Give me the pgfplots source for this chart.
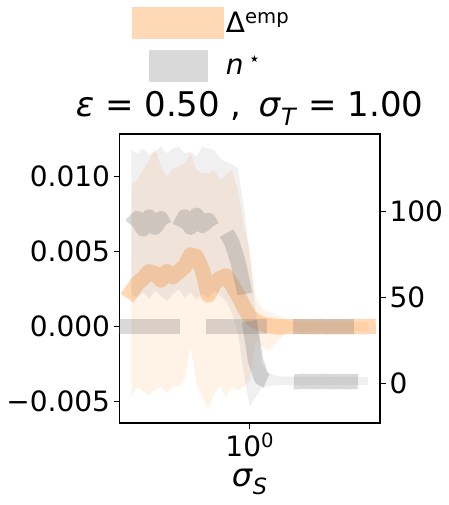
\documentclass[border=0pt]{standalone}
\usepackage{fontspec}
\setmainfont{DejaVu Sans}
\usepackage{pgfplots}
\pgfplotsset{compat=1.18}
\usepackage{pgfplotstable}
\definecolor{taborange}{RGB}{255,127,14}
\definecolor{mplgray}{RGB}{128,128,128}
\newcommand{\tickfont}{\fontsize{28bp}{32bp}\selectfont}
\newcommand{\labfont}{\fontsize{34bp}{40bp}\selectfont}
\newcommand{\xlabfont}{\fontsize{32bp}{38bp}\selectfont}
\newcommand{\legfont}{\fontsize{28bp}{32bp}\selectfont}

\pgfplotstableread{
x        dlo      dhi      dm       nlo    nhi    nm
0.31623  -0.00467 0.00944  0.00233  52     135.9  92
0.33497  -0.00400 0.00978  0.00289  50     134.0  96
0.35481  -0.00433 0.01044  0.00322  53     136.9  90
0.37584  -0.00456 0.01111  0.00367  49     133.0  97
0.39811  -0.00422 0.01189  0.00356  54     135.0  91
0.42170  -0.00400 0.01067  0.00311  51     137.9  96
0.44668  -0.00444 0.01000  0.00367  48     134.0  89
0.47315  -0.00400 0.01055  0.00333  52     136.9  94
0.50119  -0.00400 0.01067  0.00367  55     137.9  90
0.53088  -0.00356 0.01089  0.00400  50     134.0  97
0.56234  -0.00133 0.01155  0.00478  53     135.0  91
0.59566  -0.00378 0.01044  0.00467  49     132.0  98
0.63096  -0.00467 0.01022  0.00378  52     137.9  92
0.66834  -0.00556 0.01022  0.00211  50     136.9  95
0.70795  -0.00444 0.01044  0.00289  54     135.9  89
0.74989  -0.00400 0.00978  0.00322  51     131.0  94
0.79433  -0.00467 0.01011  0.00338  48     129.1  88
0.84140  -0.00400 0.01044  0.00280  41     127.8  82
0.89125  -0.00422 0.00911  0.00210  29     125.2  71
0.94406  -0.00400 0.00667  0.00133  6      103.0  55
1.00000  -0.00356 0.00511  0.00067  -13.6  74.0   35
1.05925  -0.00089 0.00200  0.00033  -7.8   42.0   13
1.12202  -0.00133 0.00122  0.00018  -2.9   12.0   3
1.18850  -0.00156 0.00100  0.00007  -1.9   5.8    1.5
1.25893  -0.00133 0.00089  0.00003  -1.2   4.9    1.2
1.33352  -0.00089 0.00067  -0.00002 -1.0   4.2    1.0
1.41254  -0.00044 0.00044  0.00002  -1.1   3.9    1.3
1.49624  -0.00033 0.00033  0.00000  -0.9   4.1    1.1
1.58489  -0.00031 0.00036  0.00002  -1.0   3.8    0.9
1.67880  -0.00035 0.00031  -0.00001 -1.2   4.0    1.2
1.77828  -0.00030 0.00034  0.00002  -0.8   3.7    1.0
1.88365  -0.00033 0.00030  -0.00001 -1.0   3.9    1.1
1.99526  -0.00030 0.00033  0.00001  -0.9   3.8    1.0
2.11349  -0.00032 0.00029  -0.00002 -1.1   4.0    1.2
2.23872  -0.00030 0.00032  0.00001  -0.8   3.6    0.9
2.37137  -0.00031 0.00030  0.00000  -1.0   3.9    1.1
2.51189  -0.00029 0.00031  0.00001  -0.9   3.7    1.0
2.66073  -0.00031 0.00029  -0.00001 -1.0   3.8    1.0
2.81838  -0.00030 0.00031  0.00001  -0.9   3.9    1.1
2.98538  -0.00031 0.00030  0.00000  -1.0   3.7    1.0
3.16228  -0.00030 0.00030  0.00001  -0.9   3.8    1.0
}\data

\begin{document}
\begin{tikzpicture}
\useasboundingbox (-119.5bp,-82bp) rectangle (329.5bp,423bp);
\begin{axis}[
  at={(0,0)}, anchor=south west,
  scale only axis, width=260.5bp, height=289bp,
  xmode=log, xmin=0.28184, xmax=3.54813,
  minor xtick={}, 
  tick align=outside,
  major tick length=6bp,
  every tick/.style={black, line width=1bp},
  axis line style={line width=1.1bp},
  tick label style={font=\tickfont},
  ymin=-0.00642, ymax=0.012847,
  xtick={1}, xticklabels={10\textsuperscript{0}},
  ytick={-0.005,0,0.005,0.01},
  yticklabels={−0.005,0.000,0.005,0.010},
  scaled y ticks=false,
  xtick pos=bottom, ytick pos=left,
  xlabel={\textit{σ}\textsubscript{\textit{S}}},
  xlabel style={font=\xlabfont, at={(axis description cs:0.5,0)}, anchor=base, yshift=-63.7bp},
  title={\textit{ε} = 0.50 ,\hspace{17bp}\textit{σ}\textsubscript{\textit{T}} = 1.00},
  title style={font=\labfont, at={(axis description cs:0.5,1)}, anchor=base, yshift=11.7bp},
  legend style={draw=none, fill=none, at={(axis description cs:0.0491,1.4405)}, anchor=north west,
    inner sep=0pt, outer sep=0pt, row sep=10.6bp, font=\legfont,
    /tikz/every even column/.append style={column sep=7.7bp}},
  legend cell align=left,
]
\addplot[draw=none, stack plots=y, forget plot] table[x=x, y=dlo]{\data};
\addplot[draw=none, fill=taborange, fill opacity=0.1, stack plots=y, forget plot] table[x=x, y expr=\thisrow{dhi}-\thisrow{dlo}]{\data} \closedcycle;
\addplot[taborange, draw opacity=0.3, line width=15.3bp, line join=round, line cap=rect, forget plot] table[x=x, y=dm]{\data};
\addplot[mplgray, draw opacity=0.3, line width=15.3bp, dash pattern=on 61bp off 26bp, forget plot] coordinates {(0.28184,0) (3.54813,0)};
\addlegendimage{legend image code/.code={\path[draw=none, fill=taborange, fill opacity=0.3] (0bp,-16.3bp) rectangle (91.7bp,16.3bp);}}
\addlegendentry{\raisebox{0pt}[20.6bp][0bp]{Δ\textsuperscript{emp}}}
\addlegendimage{legend image code/.code={\path[draw=none, fill=mplgray, fill opacity=0.3] (16.7bp,-16.2bp) rectangle (75.4bp,16.2bp);}}
\addlegendentry{\raisebox{0pt}[17.6bp][0bp]{\textit{n}\,\textsuperscript{⋆}}}
\end{axis}

\begin{axis}[
  at={(0,0)}, anchor=south west,
  scale only axis, width=260.5bp, height=289bp,
  xmode=log, xmin=0.28184, xmax=3.54813,
  tick align=outside,
  major tick length=6bp,
  every tick/.style={black, line width=1bp},
  axis line style={line width=1.1bp},
  tick label style={font=\tickfont},
  ymin=-23.1, ymax=145.3,
  axis x line=none, axis y line*=right,
  ytick={0,50,100}, yticklabels={0,50,100},
]
\addplot[draw=none, stack plots=y, forget plot] table[x=x, y=nlo]{\data};
\addplot[draw=none, fill=mplgray, fill opacity=0.12, stack plots=y, forget plot] table[x=x, y expr=\thisrow{nhi}-\thisrow{nlo}]{\data} \closedcycle;
\addplot[mplgray, draw opacity=0.3, line width=15.3bp, line join=round, dash pattern=on 64bp off 27.5bp, forget plot] table[x=x, y=nm]{\data};
\end{axis}
\end{tikzpicture}
\end{document}
